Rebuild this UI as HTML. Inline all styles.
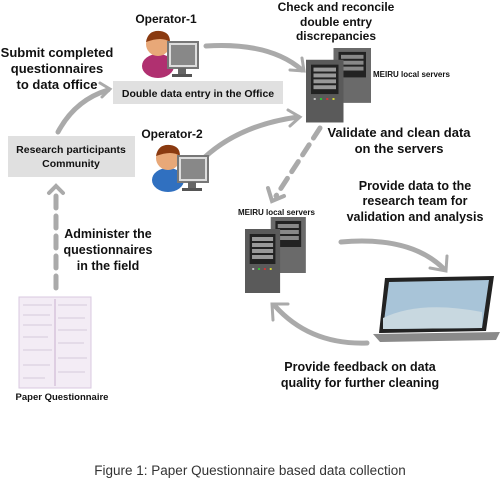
<!DOCTYPE html>
<html><head><style>
body{margin:0;background:#fff}
svg{display:block}
text{font-family:"Liberation Sans",sans-serif;font-weight:bold;fill:#111}
</style></head><body>
<svg width="500" height="500" viewBox="0 0 500 500">
<defs>
<g id="srv">
<rect x="22" y="0" width="30" height="56" fill="#6a6a6a"/>
<rect x="26" y="4" width="22" height="26" fill="#222"/>
<rect x="28" y="7" width="18" height="4" fill="#888"/><rect x="28" y="13" width="18" height="4" fill="#888"/><rect x="28" y="19" width="18" height="4" fill="#888"/>
<rect x="0" y="12" width="30" height="64" fill="#5a5a5a"/>
<rect x="4" y="17" width="22" height="30" fill="#222"/>
<rect x="6" y="20" width="18" height="4" fill="#999"/><rect x="6" y="26" width="18" height="4" fill="#999"/><rect x="6" y="32" width="18" height="4" fill="#999"/><rect x="6" y="38" width="18" height="4" fill="#999"/>
<circle cx="7" cy="52" r="1" fill="#ccc"/><circle cx="12" cy="52" r="1" fill="#3c3"/><circle cx="17" cy="52" r="1" fill="#d33"/><circle cx="22" cy="52" r="1" fill="#dd3"/>
</g>
<g id="op">
<ellipse cx="16" cy="38" rx="16" ry="12" fill="currentColor"/>
<circle cx="16" cy="16" r="12" fill="#e8a878"/>
<path d="M4 14 Q6 2 18 3 Q28 4 28 14 Q20 8 4 14Z" fill="#8a3a10"/>
<rect x="26" y="14" width="30" height="26" fill="#ddd" stroke="#777" stroke-width="2"/>
<rect x="29" y="17" width="24" height="20" fill="#888"/>
<rect x="36" y="40" width="8" height="8" fill="#666"/><rect x="30" y="46" width="20" height="3" fill="#555"/>
</g>
</defs>
<g fill="none" stroke="#aaa" stroke-width="5" stroke-linecap="round">
<path d="M58 132 Q75 100 108 90"/><path d="M100 83 L110 89 L102 97" stroke-width="3"/>
<path d="M206 46 Q270 42 302 70"/><path d="M290 70 L304 71 L302 58" stroke-width="3"/>
<path d="M205 157 Q240 125 298 117"/><path d="M288 110 L300 117 L290 126" stroke-width="3"/>
<path d="M341 242 Q410 236 443 268"/><path d="M430 268 L446 271 L447 256" stroke-width="3"/>
<path d="M367 343 Q310 345 275 306"/><path d="M273 320 L272 304 L288 304" stroke-width="3"/>
<path d="M56 288 L56 192" stroke-dasharray="12 8"/><path d="M49 193 L56 186 L63 193" stroke-width="4"/>
<path d="M320 128 L276 196" stroke-dasharray="12 8"/><path d="M268 188 L272 201 L284 196" stroke-width="4"/>
</g>
<rect x="113" y="81" width="170" height="23" fill="#e0e0e0"/>
<text x="198" y="97" font-size="10.5" text-anchor="middle">Double data entry in the  Office</text>
<rect x="8" y="136" width="127" height="41" fill="#e0e0e0"/>
<text x="71" y="153" font-size="10.5" text-anchor="middle">Research participants</text>
<text x="71" y="167" font-size="10.5" text-anchor="middle">Community</text>
<text x="166" y="23" font-size="12" text-anchor="middle">Operator-1</text>
<text x="172" y="138" font-size="12" text-anchor="middle">Operator-2</text>
<g font-size="13" text-anchor="middle">
<text x="57" y="57">Submit completed</text><text x="57" y="73">questionnaires</text><text x="57" y="89">to data office</text>
<text x="336" y="11" font-size="12">Check and reconcile</text><text x="336" y="26" font-size="12">double entry</text><text x="336" y="40" font-size="12">discrepancies</text>
<text x="399" y="137">Validate and clean data</text><text x="399" y="153">on the servers</text>
<text x="415" y="190" font-size="12.5">Provide data to the</text><text x="415" y="205" font-size="12.5">research team for</text><text x="415" y="221" font-size="12.5">validation and analysis</text>
<text x="108" y="238" font-size="12.5">Administer the</text><text x="108" y="254" font-size="12.5">questionnaires</text><text x="108" y="270" font-size="12.5">in the field</text>
<text x="360" y="371" font-size="12.5">Provide feedback on data</text><text x="360" y="387" font-size="12.5">quality for further cleaning</text>
</g>
<text x="373" y="77" font-size="8">MEIRU local servers</text>
<text x="238" y="215" font-size="8">MEIRU local servers</text>
<text x="62" y="400" font-size="9.5" text-anchor="middle">Paper  Questionnaire</text>
<use href="#op" x="142" y="28" color="#b03070"/>
<use href="#op" x="152" y="142" color="#3070c0"/>
<use href="#srv" transform="translate(306,48) scale(1.25,0.98)"/>
<use href="#srv" transform="translate(245,217) scale(1.17,1.0)"/>
<rect x="19" y="297" width="72" height="91" fill="#f3ecf5" stroke="#d8c8e0"/>
<line x1="55" y1="299" x2="55" y2="386" stroke="#c8b0d0"/>
<g stroke="#b8a8c0" stroke-width="0.6">
<line x1="23" y1="305" x2="52" y2="305"/><line x1="23" y1="315" x2="50" y2="315"/><line x1="23" y1="325" x2="52" y2="325"/><line x1="23" y1="337" x2="48" y2="337"/><line x1="23" y1="350" x2="52" y2="350"/><line x1="23" y1="365" x2="50" y2="365"/><line x1="23" y1="378" x2="45" y2="378"/>
<line x1="58" y1="305" x2="87" y2="305"/><line x1="58" y1="318" x2="85" y2="318"/><line x1="58" y1="330" x2="87" y2="330"/><line x1="58" y1="343" x2="84" y2="343"/><line x1="58" y1="358" x2="87" y2="358"/><line x1="58" y1="372" x2="85" y2="372"/>
</g>
<path d="M385 278 L494 276 L486 331 L379 333 Z" fill="#222"/>
<path d="M389 282 L489 280 L482 328 L383 329 Z" fill="#a8c4d8"/>
<path d="M383 318 Q420 300 482 312 L482 328 L383 329Z" fill="#c8d8e0"/>
<path d="M373 334 L500 332 L496 340 L380 342 Z" fill="#8a8a8a"/>
<text x="250" y="475" font-size="13.5" text-anchor="middle" style="font-weight:normal;fill:#333">Figure 1: Paper Questionnaire based data collection</text>
</svg>
</body></html>
